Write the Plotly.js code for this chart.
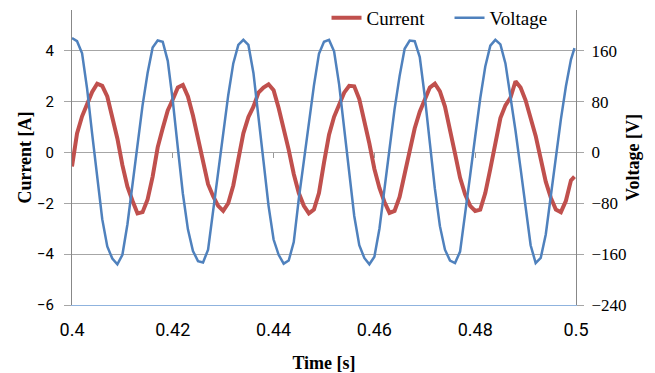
<!DOCTYPE html>
<html><head><meta charset="utf-8">
<script src="https://cdn.plot.ly/plotly-3.0.1.min.js"></script>
<style>html,body{margin:0;padding:0;background:#fff}#chart{width:655px;height:373px}</style>
</head><body><div id="chart"></div>
<script>
const time = [0.400,0.401,0.402,0.403,0.404,0.405,0.406,0.407,0.408,0.409,
0.410,0.411,0.412,0.413,0.414,0.415,0.416,0.417,0.418,0.419,
0.420,0.421,0.422,0.423,0.424,0.425,0.426,0.427,0.428,0.429,
0.430,0.431,0.432,0.433,0.434,0.435,0.436,0.437,0.438,0.439,
0.440,0.441,0.442,0.443,0.444,0.445,0.446,0.447,0.448,0.449,
0.450,0.451,0.452,0.453,0.454,0.455,0.456,0.457,0.458,0.459,
0.460,0.461,0.462,0.463,0.464,0.465,0.466,0.467,0.468,0.469,
0.470,0.471,0.472,0.473,0.474,0.475,0.476,0.477,0.478,0.479,
0.480,0.481,0.482,0.483,0.484,0.485,0.486,0.487,0.488,0.489,
0.490,0.491,0.492,0.493,0.494,0.495,0.496,0.497,0.498,0.499,0.4997];

const current = [-0.55,0.75,1.42,1.9,2.38,2.7,2.62,2.2,1.45,0.55,
-0.5,-1.35,-1.9,-2.4,-2.35,-1.85,-0.95,0.2,0.95,1.65,
2.08,2.55,2.65,2.2,1.45,0.55,-0.45,-1.25,-1.72,-2.1,
-2.3,-2.0,-1.3,-0.25,0.75,1.39,1.8,2.35,2.55,2.68,
2.45,1.75,1.0,0.1,-0.85,-1.6,-2.1,-2.4,-2.25,-1.6,
-0.4,0.7,1.4,1.9,2.35,2.62,2.6,2.1,1.3,0.35,
-0.65,-1.4,-1.95,-2.38,-2.3,-1.75,-0.85,0.0,0.95,1.6,
2.05,2.55,2.7,2.4,1.8,0.95,-0.05,-1.0,-1.65,-2.1,
-2.3,-2.25,-1.6,-0.65,0.38,1.35,1.85,2.15,2.8,2.55,
2.05,1.4,0.65,-0.25,-1.15,-1.78,-2.25,-2.35,-1.9,-1.1,-0.95];

const voltage = [180,175,156,100,29,-43,-105,-148,-167,-176,
-161,-113,-49,12,74,125,165,176,174,144,
81,7,-65,-121,-155,-171,-173,-153,-92,-30,
31,90,140,169,177,169,125,59,-14,-84,
-137,-161,-175,-170,-141,-73,-12,49,105,155,
174,177,159,107,37,-36,-100,-146,-166,-176,
-164,-120,-55,6,68,120,163,176,175,150,
88,15,-57,-116,-153,-170,-174,-156,-99,-36,
25,85,135,168,177,170,140,88,34,-25,
-88,-146,-174,-166,-129,-68,-2,52,104,146,164];

const xTickVals = [0.4,0.42,0.44,0.46,0.48,0.5];
const xTickText = ['0.4','0.42','0.44','0.46','0.48','0.5'];
const midTickVals = [0.42,0.44,0.46,0.48];
const leftTickVals = [-6,-4,-2,0,2,4];
const rightTickVals = [-240,-160,-80,0,80,160];
const seriesNames = ['Current','Voltage'];

const leftRange = [-6, 5.6];
const rightRange = [-240, 224];

const traces = [
  {x: time, y: current, name: seriesNames[0], type: 'scatter', mode: 'lines',
   line: {color: '#C0504D', width: 4}, xaxis: 'x', yaxis: 'y'},
  {x: time, y: voltage, name: seriesNames[1], type: 'scatter', mode: 'lines',
   line: {color: '#4F81BD', width: 2.5}, xaxis: 'x', yaxis: 'y2'},
  {x: [], y: [], type: 'scatter', mode: 'lines', showlegend: false, hoverinfo: 'skip',
   xaxis: 'x2', yaxis: 'y'}
];

const layout = {
  width: 655, height: 373,
  margin: {l: 72, r: 79, t: 10, b: 68, autoexpand: false},
  paper_bgcolor: '#fff', plot_bgcolor: '#fff',
  showlegend: true,
  legend: {orientation: 'h', x: 0.505, xanchor: 'left', xref: 'paper',
    y: 1 - 18/373, yanchor: 'middle', yref: 'container',
    entrywidth: 78, entrywidthmode: 'pixels',
    font: {family: 'Liberation Serif', size: 19, color: '#000'}, bgcolor: 'rgba(0,0,0,0)'},
  xaxis: {range: [0.4, 0.5], tickvals: xTickVals, ticktext: xTickText,
    showgrid: false, zeroline: false, showline: true, linecolor: '#8fb3de', linewidth: 1,
    ticks: '', ticklabelstandoff: 8, tickfont: {family: 'Roboto', size: 18, color: '#000'},
    title: {text: '<b>Time [s]</b>', font: {family: 'Liberation Serif', size: 18, color: '#000'}, standoff: 19}},
  xaxis2: {range: [0.4, 0.5], overlaying: 'x', anchor: 'free', position: 6/11.6,
    tickvals: midTickVals, showticklabels: false, showgrid: false, zeroline: false, showline: false,
    ticks: 'outside', ticklen: 5, tickcolor: '#999'},
  yaxis: {range: leftRange, tickvals: leftTickVals, showgrid: true, gridcolor: '#a6a6a6',
    zeroline: false, showline: true, linecolor: '#888', ticks: 'outside', ticklen: 7, tickcolor: '#a6a6a6',
    ticklabelstandoff: 7, tickfont: {family: 'Roboto', size: 15, color: '#000'},
    title: {text: '<b>Current [A]</b>', font: {family: 'Liberation Serif', size: 18, color: '#000'}, standoff: 0}},
  yaxis2: {range: rightRange, tickvals: rightTickVals, overlaying: 'y', side: 'right',
    showgrid: false, zeroline: false, showline: true, linecolor: '#888', ticks: 'outside', ticklen: 7, tickcolor: '#a6a6a6',
    ticklabelstandoff: 4, tickfont: {family: 'Liberation Serif', size: 17, color: '#000'},
    title: {text: '<b>Voltage [V]</b>', font: {family: 'Liberation Serif', size: 18, color: '#000'}, standoff: 0}}
};

Plotly.newPlot('chart', traces, layout, {displayModeBar: false, staticPlot: true});
</script></body></html>
